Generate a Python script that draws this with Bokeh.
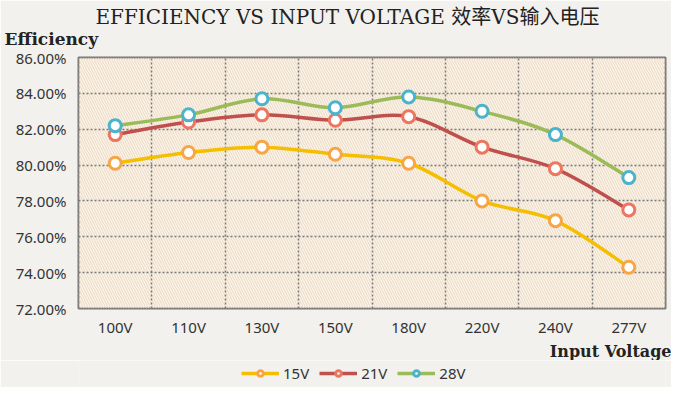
import numpy as np
from bokeh.plotting import figure
from bokeh.layouts import column
from bokeh.models import (Range1d, FixedTicker, PrintfTickFormatter, BoxAnnotation,
                          Title, Legend, LegendItem)
from bokeh.embed import file_html
from bokeh.resources import INLINE

categories = ["100V", "110V", "130V", "150V", "180V", "220V", "240V", "277V"]
eff_15v = [80.1, 80.7, 81.0, 80.6, 80.1, 78.0, 76.9, 74.3]
eff_21v = [81.7, 82.4, 82.8, 82.5, 82.7, 81.0, 79.8, 77.5]
eff_28v = [82.2, 82.8, 83.7, 83.2, 83.8, 83.0, 81.7, 79.3]
series_names = ["15V", "21V", "28V"]
y_ticks = [72, 74, 76, 78, 80, 82, 84, 86]

line_colors = ["#f5be00", "#c0504d", "#9bbb59"]
marker_colors = ["#f7a545", "#ec7660", "#4bb4cc"]
page_bg = "#f2f1ed"

n = len(categories)
xs = np.arange(n) + 0.5

p = figure(width=671, height=360, output_backend="svg", toolbar_location=None,
           x_range=Range1d(0, n), y_range=Range1d(72, 86),
           background_fill_color="#fcf4ea", border_fill_color=page_bg,
           min_border_left=78, min_border_right=6, min_border_top=57,
           min_border_bottom=50)

# hatch background
hatch = BoxAnnotation(fill_alpha=0, line_color=None, hatch_pattern="\\",
                      hatch_color="#ead9c3", hatch_scale=5, hatch_weight=1,
                      level="image")
p.add_layout(hatch)

p.outline_line_color = "#767676"
p.outline_line_width = 2

# grid
p.xgrid.ticker = FixedTicker(ticks=list(range(1, n)))
p.ygrid.ticker = FixedTicker(ticks=y_ticks[1:-1])
for g in (p.xgrid, p.ygrid):
    g.grid_line_color = "#7a7a7a"
    g.grid_line_dash = "2 2"
    g.grid_line_width = 1.5

# axes
p.xaxis.ticker = FixedTicker(ticks=list(xs))
p.xaxis.major_label_overrides = {float(x): c for x, c in zip(xs, categories)}
p.yaxis.ticker = FixedTicker(ticks=y_ticks)
p.yaxis.formatter = PrintfTickFormatter(format="%.2f%%")
for ax in (p.xaxis, p.yaxis):
    ax.axis_line_color = None
    ax.major_tick_line_color = None
    ax.minor_tick_line_color = None
    ax.major_tick_out = 0
    ax.major_tick_in = 0
    ax.minor_tick_out = 0
    ax.minor_tick_in = 0
    ax.major_label_text_font = "Noto Sans"
    ax.major_label_text_font_size = "15px"
    ax.major_label_text_color = "#333333"
p.yaxis.major_label_standoff = 12
p.xaxis.major_label_standoff = 8

# titles
p.title.text = "EFFICIENCY VS INPUT VOLTAGE 效率VS输入电压"
p.title.text_font = "DejaVu Serif, Noto Sans CJK SC"
p.title.text_font_size = "20px"
p.title.text_font_style = "normal"
p.title.text_color = "#222222"
p.title.align = "left"
p.title.offset = 17
p.title.standoff = -23
p.add_layout(Title(text="Efficiency", text_font="DejaVu Serif",
                   text_font_size="17px", text_font_style="bold",
                   text_color="#222222", align="left", offset=-74,
                   standoff=18), "above")
p.add_layout(Title(text="Input Voltage", text_font="DejaVu Serif",
                   text_font_size="16px", text_font_style="bold",
                   text_color="#222222", align="right", offset=-6,
                   standoff=0), "below")

# smooth curves
for name, vals, lc, mc in zip(series_names, [eff_15v, eff_21v, eff_28v],
                              line_colors, marker_colors):
    ys = np.array(vals, dtype=float)
    x0, y0, x1, y1, cx0, cy0, cx1, cy1 = [], [], [], [], [], [], [], []
    for i in range(n - 1):
        a = max(i - 1, 0)
        d = min(i + 2, n - 1)
        x0.append(xs[i]); y0.append(ys[i])
        x1.append(xs[i + 1]); y1.append(ys[i + 1])
        cx0.append(xs[i] + (xs[i + 1] - xs[a]) / 6)
        cy0.append(ys[i] + (ys[i + 1] - ys[a]) / 6)
        cx1.append(xs[i + 1] - (xs[d] - xs[i]) / 6)
        cy1.append(ys[i + 1] - (ys[d] - ys[i]) / 6)
    p.bezier(x0=x0, y0=y0, x1=x1, y1=y1, cx0=cx0, cy0=cy0, cx1=cx1, cy1=cy1,
             line_color=lc, line_width=3.5)
    p.scatter(xs, ys, size=12, fill_color="white", line_color=mc, line_width=3)

# legend strip (separate figure holding off-range proxy renderers for the legend)
lg = figure(width=671, height=27, output_backend="svg", toolbar_location=None,
            x_range=Range1d(0, 1), y_range=Range1d(0, 1),
            x_axis_location=None, y_axis_location=None,
            background_fill_color=page_bg, border_fill_color=page_bg,
            min_border_left=78, min_border_right=6, min_border_top=0,
            min_border_bottom=0)
lg.outline_line_color = None
lg.grid.visible = False
items = []
for name, lc, mc in zip(series_names, line_colors, marker_colors):
    lr = lg.line(x=[-10, -9], y=[-10, -10], line_color=lc, line_width=3.5)
    sr = lg.scatter(x=[-10], y=[-10], size=12, fill_color="white", line_color=mc,
                    line_width=3)
    items.append(LegendItem(label=name, renderers=[lr, sr]))
legend = Legend(items=items, orientation="horizontal", location=(163, 4),
                border_line_color=None, background_fill_alpha=0,
                label_text_font="Noto Sans", label_text_font_size="15px",
                label_text_color="#333333", glyph_width=38, glyph_height=14,
                label_standoff=4, spacing=10, margin=0, padding=2)
lg.add_layout(legend)

layout = column(p, lg, spacing=0)
open("out.html", "w").write(file_html(layout, INLINE))
